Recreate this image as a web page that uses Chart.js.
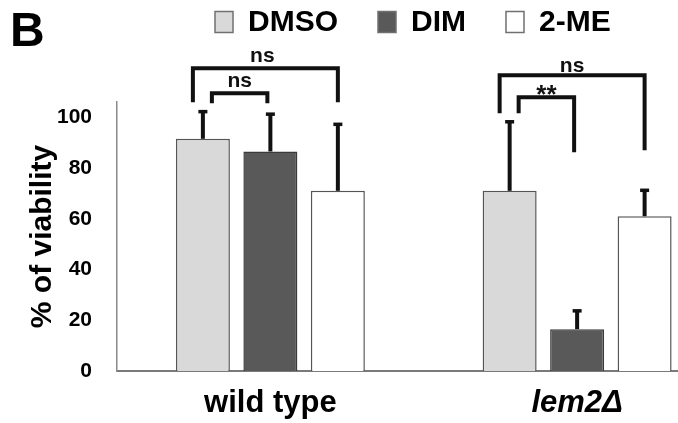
<!DOCTYPE html>
<html>
<head>
<meta charset="utf-8">
<script src="https://cdn.jsdelivr.net/npm/chart.js@4.4.1/dist/chart.umd.min.js"></script>
<style>
  html, body { margin: 0; padding: 0; background: #ffffff; overflow: hidden; }
  #wrap { width: 740px; height: 423px; }
</style>
</head>
<body>
<div id="wrap"><canvas id="c" width="740" height="423"></canvas></div>
<script>
// ---- data ----
const categories = ['wild type', 'lem2Δ'];
const seriesNames = ['DMSO', 'DIM', '2-ME'];
const dmsoValues = [91.5, 71];
const dimValues = [86.5, 16.5];
const meValues = [71, 61];
const dmsoErr = [11, 27.5];
const dimErr = [15, 7.5];
const meErr = [26.5, 10.5];
const yTickValues = [0, 20, 40, 60, 80, 100];
// significance brackets (levels in data units)
const bracketGroup = [0, 0, 1, 1];
const bracketFrom = [0, 0, 0, 0];
const bracketTo = [2, 1, 2, 1];
const bracketTop = [119.3, 109.4, 116.5, 107.9];
const bracketLegFrom = [105.9, 105.5, 101.6, 101.6];
const bracketLegTo = [105.9, 105.5, 87, 86.2];
const bracketLabels = ['ns', 'ns', 'ns', '**'];

const errs = [dmsoErr, dimErr, meErr];
const vals = [dmsoValues, dimValues, meValues];
const FONT = '"Liberation Sans", Arial, sans-serif';

const annotPlugin = {
  id: 'annot',
  afterDatasetsDraw(chart) {
    const ctx = chart.ctx;
    const y = chart.scales.y;
    ctx.save();
    // error bars
    ctx.strokeStyle = '#111';
    ctx.fillStyle = '#111';
    for (let d = 0; d < 3; d++) {
      const meta = chart.getDatasetMeta(d);
      meta.data.forEach((bar, j) => {
        const x = bar.x;
        const y0 = y.getPixelForValue(vals[d][j]);
        const y1 = y.getPixelForValue(vals[d][j] + errs[d][j]);
        ctx.lineWidth = 4;
        ctx.beginPath();
        ctx.moveTo(x, y0);
        ctx.lineTo(x, y1 + 1);
        ctx.stroke();
        ctx.fillRect(x - 4.5, y1 - 1, 9, 3.5);
      });
    }
    // brackets
    ctx.lineWidth = 4;
    ctx.lineCap = 'butt';
    ctx.lineJoin = 'miter';
    for (let k = 0; k < bracketLabels.length; k++) {
      const g = bracketGroup[k];
      const outer = bracketTo[k] === 2;
      const xl = chart.getDatasetMeta(bracketFrom[k]).data[g].x + (outer ? -10 : 9);
      const xr = chart.getDatasetMeta(bracketTo[k]).data[g].x + (outer ? 0 : -3);
      const yt = y.getPixelForValue(bracketTop[k]);
      const yl = y.getPixelForValue(bracketLegFrom[k]);
      const yr = y.getPixelForValue(bracketLegTo[k]);
      ctx.beginPath();
      ctx.moveTo(xl, yl);
      ctx.lineTo(xl, yt);
      ctx.lineTo(xr, yt);
      ctx.lineTo(xr, yr);
      ctx.stroke();
      const lbl = bracketLabels[k];
      ctx.textAlign = 'center';
      ctx.textBaseline = 'alphabetic';
      if (lbl === '**') {
        ctx.font = 'bold 26px ' + FONT;
        ctx.fillText(lbl, (xl + xr) / 2, yt + 6);
      } else {
        ctx.font = 'bold 21px ' + FONT;
        ctx.fillText(lbl, (xl + xr) / 2 - (outer && g === 0 ? 3 : 0), yt - (g === 1 && outer ? 3 : 6));
      }
    }
    ctx.restore();
  },
  afterDraw(chart) {
    // legend row
    const ctx = chart.ctx;
    ctx.save();
    ctx.font = 'bold 30px ' + FONT;
    ctx.textAlign = 'left';
    ctx.textBaseline = 'middle';
    let x = 215;
    chart.data.datasets.forEach((ds) => {
      ctx.fillStyle = ds.backgroundColor;
      ctx.fillRect(x, 11.5, 18, 21);
      ctx.strokeStyle = '#707070';
      ctx.lineWidth = 1.5;
      ctx.strokeRect(x, 11.5, 18, 21);
      ctx.fillStyle = '#000';
      ctx.fillText(ds.label, x + 33, 23);
      x += 33 + ctx.measureText(ds.label).width + 40;
    });
    ctx.restore();
  }
};

const ctx = document.getElementById('c').getContext('2d');
new Chart(ctx, {
  type: 'bar',
  data: {
    labels: categories,
    datasets: [
      { label: seriesNames[0], data: dmsoValues, backgroundColor: '#d9d9d9', borderColor: '#555555', borderWidth: 1.5 },
      { label: seriesNames[1], data: dimValues, backgroundColor: '#595959', borderColor: '#3a3a3a', borderWidth: 1.5 },
      { label: seriesNames[2], data: meValues, backgroundColor: '#ffffff', borderColor: '#555555', borderWidth: 1.5 }
    ]
  },
  options: {
    responsive: false,
    devicePixelRatio: 1,
    animation: false,
    categoryPercentage: 0.66,
    barPercentage: 0.8,
    layout: { padding: { left: 10, right: 9.5, top: 0, bottom: 2 } },
    plugins: {
      title: {
        display: true,
        text: 'B',
        align: 'start',
        color: '#000',
        font: { family: FONT, size: 48, weight: 'bold' },
        padding: { top: 4, bottom: 40.4 }
      },
      legend: { display: false },
      tooltip: { enabled: false }
    },
    scales: {
      x: {
        grid: { display: false, drawTicks: false },
        border: { display: true, color: '#7a7a7a', width: 2 },
        afterFit: (s) => { s.height = 50; },
        ticks: {
          color: '#000',
          padding: 14,
          font: (c) => ({ family: FONT, size: 31, weight: 'bold', style: c.index === 1 ? 'italic' : 'normal' })
        }
      },
      y: {
        min: 0,
        max: 106,
        grid: { display: false, drawTicks: false },
        border: { display: true, color: '#8a8a8a', width: 1.5 },
        afterBuildTicks: (s) => { s.ticks = yTickValues.map(v => ({ value: v })); },
        afterFit: (s) => { s.width = 107; },
        ticks: {
          color: '#000',
          padding: 25,
          font: { family: FONT, size: 21, weight: 'bold' }
        },
        title: {
          display: true,
          text: '% of viability',
          color: '#000',
          padding: { top: 15, bottom: 0 },
          font: { family: FONT, size: 30, weight: 'bold' }
        }
      }
    }
  },
  plugins: [annotPlugin]
});
</script>
</body>
</html>
